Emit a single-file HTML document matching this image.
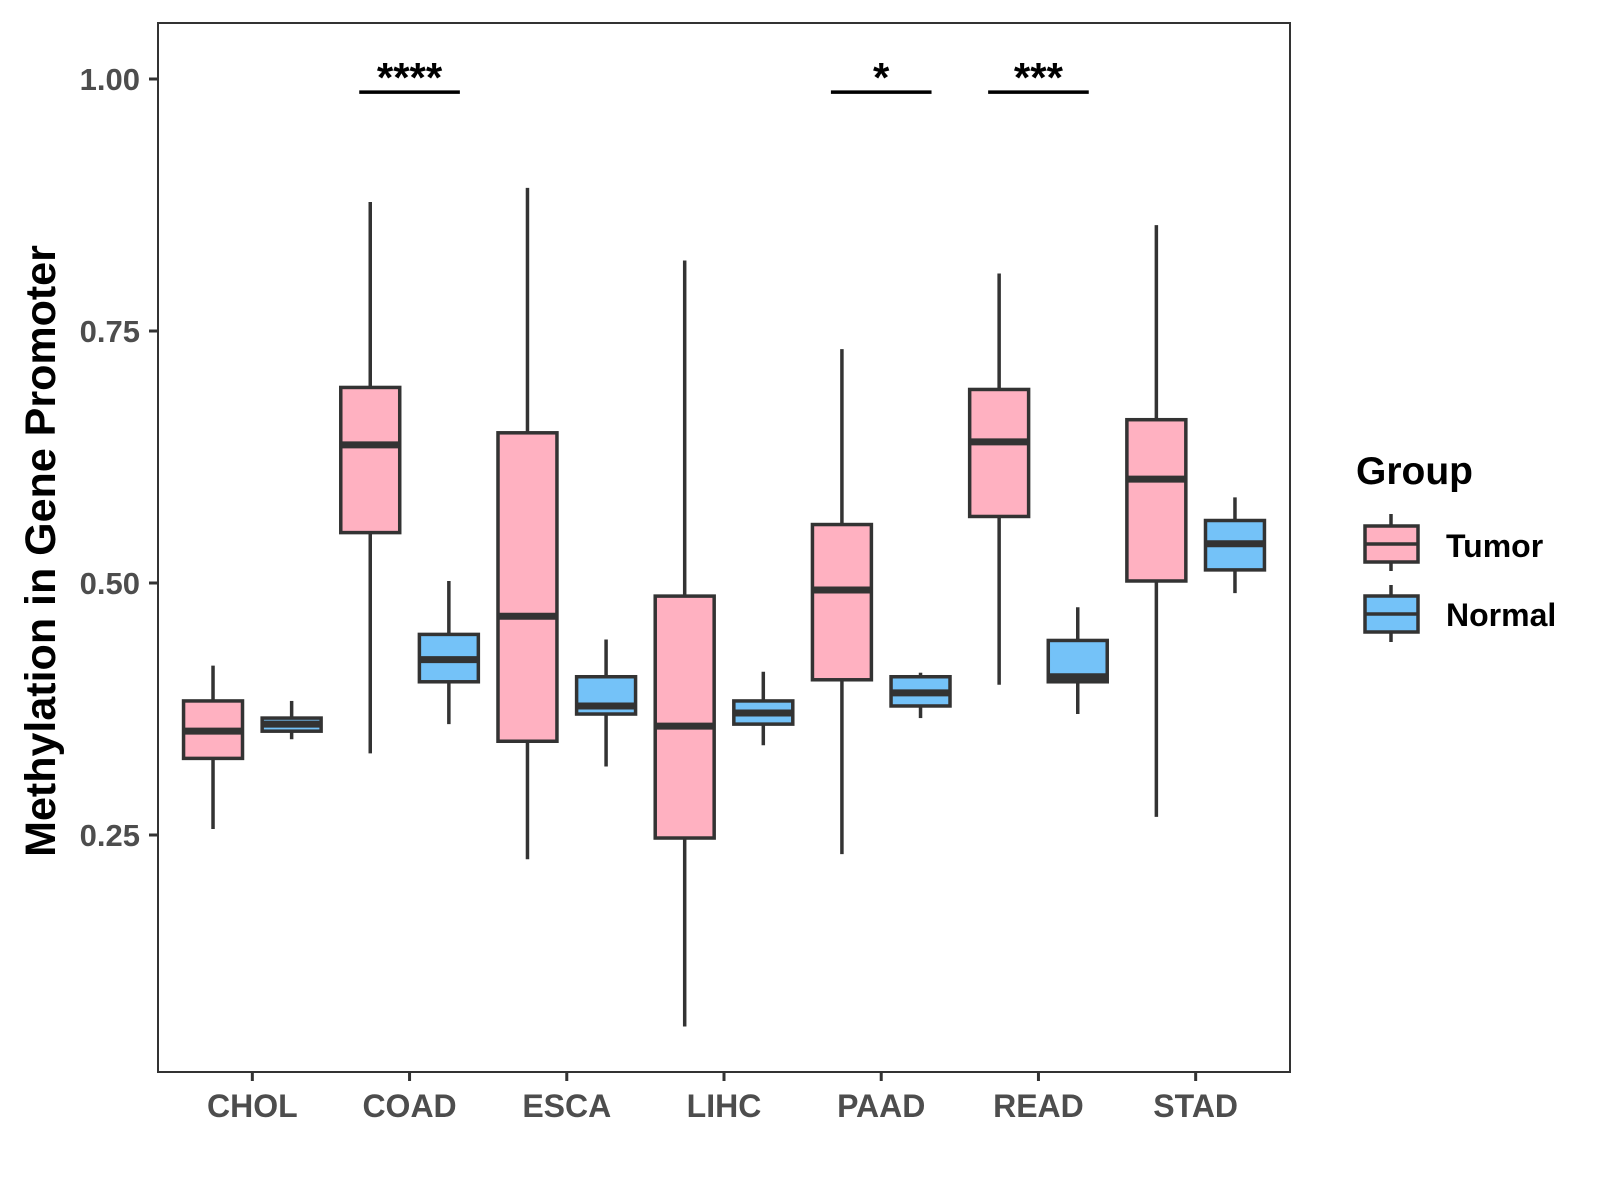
<!DOCTYPE html>
<html><head><meta charset="utf-8"><style>body{margin:0;background:#fff}svg{display:block;font-family:"Liberation Sans",Arial,sans-serif}</style></head>
<body>
<svg id="chart" width="1600" height="1200" viewBox="0 0 1600 1200">
<rect x="158" y="23" width="1132" height="1049" fill="#fff" stroke="#333" stroke-width="2"/>
<g id="marks"></g>
<text transform="translate(55,551) rotate(-90)" text-anchor="middle" font-size="43" font-weight="bold" fill="#000">Methylation in Gene Promoter</text>
<g>
<text x="1356" y="484" font-size="39" font-weight="bold">Group</text>
<g>
<line x1="1391" x2="1391" y1="514" y2="571" stroke="#333" stroke-width="3.5"/>
<rect x="1365" y="526" width="53" height="36" fill="#FFB1C1" stroke="#333" stroke-width="3.5"/>
<line x1="1365" x2="1418" y1="544" y2="544" stroke="#333" stroke-width="3.5"/>
<text x="1446" y="557" font-size="32" font-weight="bold">Tumor</text></g>
<g>
<line x1="1391" x2="1391" y1="585" y2="642" stroke="#333" stroke-width="3.5"/>
<rect x="1365" y="596" width="53" height="36" fill="#74C2F8" stroke="#333" stroke-width="3.5"/>
<line x1="1365" x2="1418" y1="614" y2="614" stroke="#333" stroke-width="3.5"/>
<text x="1446" y="626" font-size="32" font-weight="bold">Normal</text></g>
</g>
</svg>
<script>
const categories=["CHOL","COAD","ESCA","LIHC","PAAD","READ","STAD"];
// [lowerWhisker, q1, median, q3, upperWhisker]
const tumorStats=[[0.256,0.326,0.353,0.383,0.418],[0.331,0.550,0.637,0.694,0.878],[0.226,0.343,0.467,0.649,0.892],[0.060,0.247,0.358,0.487,0.820],[0.231,0.404,0.493,0.558,0.732],[0.399,0.566,0.640,0.692,0.807],[0.268,0.502,0.603,0.662,0.855]];
const normalStats=[[0.345,0.353,0.360,0.366,0.383],[0.360,0.402,0.424,0.449,0.502],[0.318,0.370,0.378,0.407,0.444],[0.339,0.360,0.371,0.383,0.412],[0.366,0.378,0.391,0.407,0.411],[0.370,0.402,0.407,0.443,0.476],[0.490,0.513,0.539,0.562,0.585]];
const yTicks=[0.25,0.50,0.75,1.00];
const yTickLabels=["0.25","0.50","0.75","1.00"];
const sigCategories=["COAD","PAAD","READ"];
const sigLabels=["****","*","***"];
const sigY=0.987;

const NS="http://www.w3.org/2000/svg";
const left=158,right=1290,step=(right-left)/7.2;
const xScale=i=>left+step*(0.6+i);
const yScale=v=>79+(1-v)*1008;
const g=document.getElementById('marks');
function mk(tag,a){const e=document.createElementNS(NS,tag);for(const k in a)e.setAttribute(k,a[k]);g.appendChild(e);return e;}
yTicks.forEach((t,i)=>{
  const y=yScale(t);
  const l=mk('line',{x1:left-9,x2:left,y1:y,y2:y,stroke:'#333','stroke-width':3});
  
  
  const tx=mk('text',{x:left-18,y:y+11,'text-anchor':'end','font-size':31,'font-weight':'bold',fill:'#4d4d4d'});
  tx.textContent=yTickLabels[i];
  
  
});
categories.forEach((c,i)=>{
  const x=xScale(i);
  const l=mk('line',{x1:x,x2:x,y1:1072,y2:1081,stroke:'#333','stroke-width':3});
  
  
  const tx=mk('text',{x:x,y:1117,'text-anchor':'middle','font-size':32,'font-weight':'bold',fill:'#4d4d4d'});
  tx.textContent=c;
  
  
});
const bw=step*0.375;
function box(cx,s,fill,name){
  const grp=document.createElementNS(NS,'g');g.appendChild(grp);
  
  
  const add=(tag,a)=>{const e=document.createElementNS(NS,tag);for(const k in a)e.setAttribute(k,a[k]);grp.appendChild(e);};
  add('line',{x1:cx,x2:cx,y1:yScale(s[0]),y2:yScale(s[4]),stroke:'#333','stroke-width':3.5});
  add('rect',{x:cx-bw/2,y:yScale(s[3]),width:bw,height:yScale(s[1])-yScale(s[3]),fill:fill,stroke:'#333','stroke-width':3.5});
  add('line',{x1:cx-bw/2,x2:cx+bw/2,y1:yScale(s[2]),y2:yScale(s[2]),stroke:'#333','stroke-width':7});
}
categories.forEach((c,i)=>{
  box(xScale(i)-step*0.25,tumorStats[i],'#FFB1C1','box-tumor-'+c.toLowerCase());
  box(xScale(i)+step*0.25,normalStats[i],'#74C2F8','box-normal-'+c.toLowerCase());
});
sigCategories.forEach((c,k)=>{
  const i=categories.indexOf(c),x=xScale(i),y=yScale(sigY);
  const l=mk('line',{x1:x-step*0.32,x2:x+step*0.32,y1:y,y2:y,stroke:'#000','stroke-width':3.5});
  
  
  const tx=mk('text',{x:x,y:y,'text-anchor':'middle','font-size':42,'font-weight':'bold',fill:'#000'});
  tx.textContent=sigLabels[k];
  
  
});
</script>
</body></html>
